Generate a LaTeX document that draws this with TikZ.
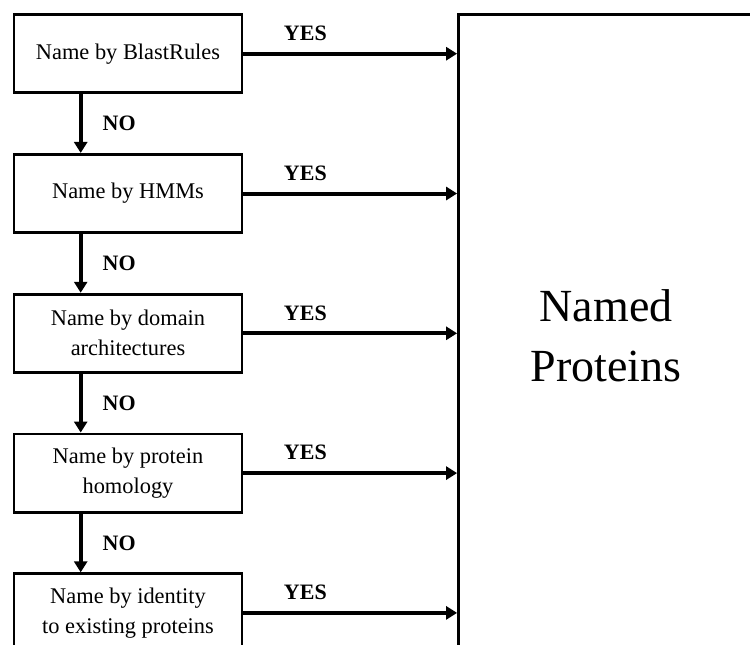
\documentclass[tikz,border=0pt]{standalone}
\usepackage{fontspec}
\setmainfont{Liberation Serif}
\usetikzlibrary{arrows.meta,positioning}

\tikzset{
  namebox/.style={draw,line width=2.8pt,minimum width=228pt,minimum height=78.3pt,
    align=center,inner sep=2pt,font=\fontsize{22.4}{30}\selectfont},
  flowarrow/.style={line width=4pt,-{Triangle[length=11pt,width=13pt]}},
  answer/.style={inner sep=0pt,font=\fontsize{22}{26}\selectfont\bfseries}
}

\begin{document}
\begin{tikzpicture}[x=1pt,y=-1pt]

\useasboundingbox (0,0) rectangle (750,645);
\clip (0,0) rectangle (750,645);

% naming steps
\node[namebox] (blast) at (128,53.7) {Name by BlastRules};
\node[namebox,below=58.7pt of blast] (hmm) {Name by HMMs};
\node[namebox,below=58.7pt of hmm] (domain) {Name by domain\\architectures};
\node[namebox,below=58.7pt of domain] (homology) {Name by protein\\homology};
\node[namebox,below=58.7pt of homology] (identity) {Name by identity\\to existing proteins};

% result box
\node[draw,line width=2.8pt,minimum width=295pt,minimum height=643pt,align=center,
  font=\fontsize{46}{60}\selectfont] (named) at (606,336) {Named\\Proteins};

% NO arrows
\draw[flowarrow] ([xshift=-47.3pt]blast.south) -- ([xshift=-47.3pt]hmm.north)
  node[answer,midway,right=20pt] (no1) {NO};
\draw[flowarrow] ([xshift=-47.3pt]hmm.south) -- ([xshift=-47.3pt]domain.north)
  node[answer,midway,right=20pt] (no2) {NO};
\draw[flowarrow] ([xshift=-47.3pt]domain.south) -- ([xshift=-47.3pt]homology.north)
  node[answer,midway,right=20pt] (no3) {NO};
\draw[flowarrow] ([xshift=-47.3pt]homology.south) -- ([xshift=-47.3pt]identity.north)
  node[answer,midway,right=20pt] (no4) {NO};

% YES arrows
\foreach \step in {blast,hmm,domain,homology,identity}{
  \draw[flowarrow] (\step.east) -- (\step.east -| named.west)
    node[answer,pos=0.29,above=11pt] {YES};
}

\end{tikzpicture}
\end{document}
